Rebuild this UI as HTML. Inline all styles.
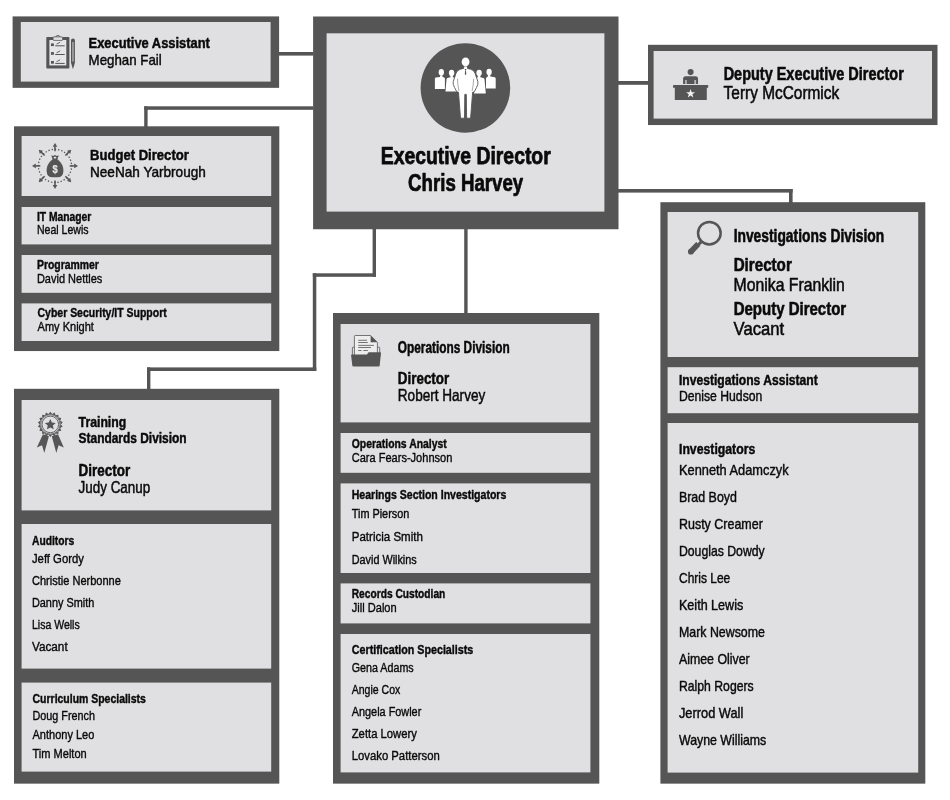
<!DOCTYPE html>
<html lang="en"><head><meta charset="utf-8"><title>Organization Chart</title>
<style>
html,body{margin:0;padding:0;background:#fff;}
body{width:950px;height:800px;overflow:hidden;}
svg{display:block;will-change:transform;}
svg text{font-family:"Liberation Sans",sans-serif;fill:#0a0a0a;stroke:#0a0a0a;stroke-linejoin:round;}
</style></head><body>
<svg width="950" height="800" viewBox="0 0 950 800">
<rect x="0" y="0" width="950" height="800" fill="#ffffff"/>
<g shape-rendering="auto">
<rect x="278.80" y="52.00" width="34.40" height="3.60" fill="#555555"/>
<rect x="144.20" y="106.30" width="3.40" height="20.70" fill="#555555"/>
<rect x="144.20" y="106.30" width="169.00" height="3.50" fill="#555555"/>
<rect x="618.00" y="81.00" width="30.20" height="3.80" fill="#555555"/>
<rect x="618.00" y="189.00" width="174.60" height="3.60" fill="#555555"/>
<rect x="789.00" y="189.00" width="3.60" height="14.00" fill="#555555"/>
<rect x="372.60" y="228.00" width="3.40" height="48.80" fill="#555555"/>
<rect x="312.80" y="273.30" width="63.20" height="3.50" fill="#555555"/>
<rect x="312.80" y="273.30" width="3.50" height="97.70" fill="#555555"/>
<rect x="147.00" y="367.40" width="169.30" height="3.60" fill="#555555"/>
<rect x="147.00" y="367.40" width="3.40" height="22.10" fill="#555555"/>
<rect x="464.20" y="228.00" width="3.40" height="85.50" fill="#555555"/>
<rect x="12.60" y="16.40" width="266.50" height="71.45" fill="#555555"/>
<rect x="20.80" y="22.00" width="249.80" height="59.60" fill="#e0e0e2"/>
<rect x="313.10" y="16.50" width="305.40" height="212.75" fill="#555555"/>
<rect x="326.60" y="33.30" width="277.80" height="178.30" fill="#e0e0e2"/>
<rect x="648.00" y="44.80" width="289.50" height="80.25" fill="#555555"/>
<rect x="653.60" y="51.00" width="278.40" height="67.60" fill="#e0e0e2"/>
<rect x="14.00" y="126.30" width="265.30" height="224.75" fill="#555555"/>
<rect x="21.60" y="136.00" width="249.60" height="60.00" fill="#e0e0e2"/>
<rect x="21.60" y="207.00" width="249.60" height="37.40" fill="#e0e0e2"/>
<rect x="21.60" y="255.00" width="249.60" height="37.80" fill="#e0e0e2"/>
<rect x="21.60" y="303.40" width="249.60" height="37.60" fill="#e0e0e2"/>
<rect x="14.00" y="388.80" width="265.30" height="394.85" fill="#555555"/>
<rect x="21.60" y="400.00" width="249.60" height="110.40" fill="#e0e0e2"/>
<rect x="21.60" y="524.00" width="249.60" height="144.60" fill="#e0e0e2"/>
<rect x="21.60" y="682.60" width="249.60" height="89.00" fill="#e0e0e2"/>
<rect x="333.00" y="313.00" width="266.30" height="470.65" fill="#555555"/>
<rect x="340.60" y="324.00" width="249.80" height="98.40" fill="#e0e0e2"/>
<rect x="340.60" y="433.00" width="249.80" height="39.80" fill="#e0e0e2"/>
<rect x="340.60" y="483.40" width="249.80" height="89.60" fill="#e0e0e2"/>
<rect x="340.60" y="583.40" width="249.80" height="40.00" fill="#e0e0e2"/>
<rect x="340.60" y="634.00" width="249.80" height="138.40" fill="#e0e0e2"/>
<rect x="660.40" y="202.20" width="264.90" height="581.45" fill="#555555"/>
<rect x="667.60" y="212.00" width="250.60" height="145.00" fill="#e0e0e2"/>
<rect x="667.60" y="367.20" width="250.60" height="46.00" fill="#e0e0e2"/>
<rect x="667.60" y="423.00" width="250.60" height="349.60" fill="#e0e0e2"/>
</g>
<g>
<!-- main circle people icon -->
<g id="ic-main">
<circle cx="465.4" cy="87.95" r="44.8" fill="#555555"/>
<g fill="#ffffff">
<!-- outer left -->
<ellipse cx="441.3" cy="72.3" rx="2.65" ry="3.2"/>
<path d="M440.2 75.2 L442.4 75.2 L442.6 76.9 L444.2 77.6 Q444.9 77.9 444.9 78.8 L444.9 88.9 L434.9 88.9 L434.9 78.8 Q434.9 77.9 435.7 77.6 L440 76.9 Z"/>
<!-- inner left -->
<ellipse cx="451.6" cy="72.9" rx="2.7" ry="3.1"/>
<path d="M450.5 75.7 L452.7 75.7 L452.9 77.3 L456 78 L457 91.6 L445.5 91.6 L446.5 79.2 Q446.6 78.2 447.5 78 L450.3 77.3 Z"/>
<!-- inner right -->
<ellipse cx="479.1" cy="72.9" rx="2.7" ry="3.1"/>
<path d="M478 75.7 L480.2 75.7 L480.4 77.3 L483.4 78 Q484.3 78.2 484.5 79.2 L485.8 93.6 L474 93.6 L475 78 L477.8 77.3 Z"/>
<!-- outer right -->
<ellipse cx="489.1" cy="72" rx="2.65" ry="3.2"/>
<path d="M488 74.9 L490.2 74.9 L490.4 76.4 L494.8 77.2 Q495.7 77.4 495.7 78.4 L495.7 88.5 L486 88.5 L486 78.4 Q486 77.5 486.8 77.2 L487.8 76.4 Z"/>
</g>
<!-- central figure with dark outline to separate from side figures -->
<g fill="#ffffff" stroke="#555555" stroke-width="0.9" stroke-linejoin="round">
<path d="M463.7 66 L467.4 66 L467.5 68.4 L470.6 69.2 Q474.2 70.1 475.2 73.6 L477.9 81.7 Q478.4 84.4 476.6 87.4 L474.3 91.8 L472.6 92.3 L470.6 118.2 L466.6 118.2 L466.3 94.4 L464.8 94.4 L464.5 118.2 L460.5 118.2 L458.5 92.3 L456.8 91.8 L454.5 87.4 Q452.7 84.4 453.2 81.7 L455.9 73.6 Q456.9 70.1 460.5 69.2 L463.6 68.4 Z"/>
</g>
<ellipse cx="465.55" cy="61.9" rx="3.9" ry="4.4" fill="#ffffff"/>
<g stroke="#555555" stroke-width="0.5" fill="none" stroke-linecap="round">
<path d="M457.5 79.2 Q457.6 85 458.9 90.6"/>
<path d="M473.6 79.2 Q473.5 85 472.2 90.6"/>
</g>
<path d="M464.6 69.3 L465.55 71 L466.5 69.3 L466.1 69 L465 69 Z M465.1 71 L466 71 L466.3 74.3 L465.55 75 L464.8 74.3 Z" fill="#555555"/>
</g>

<!-- clipboard icon -->
<g id="ic-clip">
<rect x="46.3" y="37.1" width="23.1" height="31.5" rx="0.8" fill="#555555"/>
<rect x="49.4" y="40" width="16.9" height="25.4" fill="#e6e6e8"/>
<path d="M55.7 37.1 A2.2 2.1 0 0 1 60 37.1" fill="#e0e0e2" stroke="#555555" stroke-width="0.9"/>
<rect x="53.1" y="36.9" width="9.5" height="3.5" rx="0.6" fill="#e0e0e2" stroke="#555555" stroke-width="0.8"/>
<g fill="#555555">
<rect x="51" y="43.4" width="2.9" height="2.7"/>
<rect x="51" y="52.1" width="2.9" height="2.7"/>
<rect x="51" y="61" width="2.9" height="2.7"/>
<rect x="55.2" y="45.3" width="9.5" height="1"/>
<rect x="55.2" y="54" width="9.5" height="1"/>
<rect x="55.2" y="62.9" width="9.5" height="1"/>
</g>
<g stroke="#555555" stroke-width="0.9" stroke-linecap="round">
<path d="M56.9 43.9 L59.8 42.4"/>
<path d="M56.9 52.6 L59.8 51.1"/>
<path d="M56.9 61.5 L59.8 60"/>
</g>
<path d="M71 40.2 Q71 38.6 72.95 38.6 Q74.9 38.6 74.9 40.2 L74.9 62.8 L72.95 69.2 L71 62.8 Z" fill="#555555"/>
<rect x="72" y="42" width="1.9" height="19.6" fill="#999999"/>
</g>

<!-- budget icon -->
<g id="ic-budget">
<circle cx="55" cy="165.9" r="16.6" fill="none" stroke="#555555" stroke-width="1.25" stroke-dasharray="1.4 1.8594" stroke-dashoffset="0.7"/>
<g fill="#555555" stroke="#555555" stroke-width="1.6">
<g id="arw"><path d="M55 151.2 L55 146.4" fill="none"/><path d="M55 142.9 L57.3 146.7 L52.7 146.7 Z" stroke="none"/></g>
<use href="#arw" transform="rotate(45 55 165.9)"/>
<use href="#arw" transform="rotate(90 55 165.9)"/>
<use href="#arw" transform="rotate(135 55 165.9)"/>
<use href="#arw" transform="rotate(180 55 165.9)"/>
<use href="#arw" transform="rotate(225 55 165.9)"/>
<use href="#arw" transform="rotate(270 55 165.9)"/>
<use href="#arw" transform="rotate(315 55 165.9)"/>
</g>
<path d="M51.2 155.3 L53 156 L55 155 L57 156 L58.8 155.3 L57.4 159.2 Q63.6 164 63.4 171 Q63.2 177.3 57.5 177.3 L52.5 177.3 Q46.800000000000004 177.3 46.6 171 Q46.4 164 52.6 159.2 Z" fill="#555555"/>
<path d="M53.6 157.3 L55 156.6 L56.4 157.3 L55.9 158.5 L54.100000000000004 158.5 Z" fill="#e0e0e2"/>
<text x="52.4" y="172.7" font-size="10.5" font-weight="700" textLength="5.2" lengthAdjust="spacingAndGlyphs" style="fill:#e6e6e8;stroke:#e6e6e8" stroke-width="0.2">$</text>
</g>

<!-- ribbon icon -->
<g id="ic-ribbon" fill="#555555">
<path d="M43 434.3 L48.9 436.2 L44.3 453.1 L42 445.3 L36.8 447.6 Z"/>
<path d="M51.8 436.2 L58 434.3 L63.8 447.6 L58.6 445.3 L56.3 453.1 Z"/>
<path d="M50.30 411.80 L52.14 413.96 L54.61 412.56 L55.60 415.22 L58.40 414.75 L58.42 417.59 L61.21 418.10 L60.26 420.77 L62.71 422.21 L60.90 424.40 L62.71 426.59 L60.26 428.03 L61.21 430.70 L58.42 431.21 L58.40 434.05 L55.60 433.58 L54.61 436.24 L52.14 434.84 L50.30 437.00 L48.46 434.84 L45.99 436.24 L45.00 433.58 L42.20 434.05 L42.18 431.21 L39.39 430.70 L40.34 428.03 L37.89 426.59 L39.70 424.40 L37.89 422.21 L40.34 420.77 L39.39 418.10 L42.18 417.59 L42.20 414.75 L45.00 415.22 L45.99 412.56 L48.46 413.96 Z"/>
<circle cx="50.3" cy="424.4" r="10.2" fill="#e0e0e2"/>
<circle cx="50.3" cy="424.4" r="9.7" fill="none" stroke="#555555" stroke-width="0.8"/>
<circle cx="50.3" cy="424.4" r="8.3" fill="none" stroke="#555555" stroke-width="0.9"/>
<path d="M50.30 419.00 L51.89 422.52 L55.72 422.94 L52.87 425.53 L53.65 429.31 L50.30 427.40 L46.95 429.31 L47.73 425.53 L44.88 422.94 L48.71 422.52 Z"/>
</g>

<!-- folder icon -->
<g id="ic-folder">
<rect x="352.4" y="347.2" width="27.3" height="10" rx="0.8" fill="#e6e6e8" stroke="#555555" stroke-width="0.8"/>
<path d="M355.2 335.5 L370.6 335.5 L377.4 342.3 L377.4 356 L354.4 356 L354.4 336.3 Q354.4 335.5 355.2 335.5 Z" fill="#ededee" stroke="#555555" stroke-width="0.8" stroke-linejoin="round"/>
<path d="M370.6 335.6 L377.3 342.3 L370.6 342.3 Z" fill="#555555"/>
<g fill="#666666">
<rect x="358.2" y="339.8" width="8.8" height="0.9"/>
<rect x="358.2" y="342.1" width="9.6" height="0.9"/>
<rect x="358.2" y="344.9" width="15.7" height="0.9"/>
<rect x="358.2" y="347.1" width="12.7" height="0.9"/>
<rect x="358.2" y="350" width="3.3" height="0.9"/>
<rect x="363.4" y="350" width="4.4" height="0.9"/>
</g>
<path d="M351.1 355.3 Q351 354.4 351.9 354.4 L367 354.4 L368.3 352.6 Q368.6 352.2 369.2 352.2 L380.2 352.2 Q381.1 352.2 381 353.1 L379.7 365.5 Q379.6 366.5 378.6 366.5 L353.4 366.5 Q352.4 366.5 352.3 365.5 Z" fill="#555555"/>
</g>

<!-- desk icon -->
<g id="ic-desk" fill="#555555">
<circle cx="690.6" cy="72.1" r="3.05"/>
<path d="M683.1 84 L683.1 78.8 Q683.1 76.2 685.7 76.2 L695.5 76.2 Q698.05 76.2 698.05 78.8 L698.05 84 Z"/>
<rect x="685.1" y="80" width="1.7" height="4.1" fill="#b8b8ba"/>
<rect x="694.3" y="80" width="1.8" height="4.1" fill="#b8b8ba"/>
<rect x="673" y="85" width="35.2" height="2.7" rx="0.5"/>
<rect x="674.8" y="87" width="32" height="13"/>
<path d="M690.60 89.00 L691.72 92.16 L695.07 92.25 L692.41 94.29 L693.36 97.50 L690.60 95.60 L687.84 97.50 L688.79 94.29 L686.13 92.25 L689.48 92.16 Z" fill="#f2f2f2"/>
</g>

<!-- magnifier -->
<g id="ic-mag">
<circle cx="709.35" cy="233.2" r="11.3" fill="none" stroke="#555555" stroke-width="2.5"/>
<path d="M701.9 241.1 L698.6 244.5" stroke="#555555" stroke-width="3" fill="none"/>
<path d="M698.3 243.85 L690.8 251.7" stroke="#555555" stroke-width="5.7" stroke-linecap="butt" fill="none"/>
<circle cx="690.8" cy="251.7" r="2.85" fill="#555555"/>
</g>

</g>
<g>
<text x="88.59" y="47.60" font-size="14.97" font-weight="700" stroke-width="0.48" textLength="121.26" lengthAdjust="spacingAndGlyphs">Executive Assistant</text>
<text x="88.57" y="64.60" font-size="14.97" font-weight="400" stroke-width="0.45" textLength="73.11" lengthAdjust="spacingAndGlyphs">Meghan Fail</text>
<text x="380.72" y="164.00" font-size="23.36" font-weight="700" stroke-width="0.75" textLength="169.99" lengthAdjust="spacingAndGlyphs">Executive Director</text>
<text x="408.12" y="191.00" font-size="23.21" font-weight="700" stroke-width="0.74" textLength="115.01" lengthAdjust="spacingAndGlyphs">Chris Harvey</text>
<text x="723.64" y="80.00" font-size="17.97" font-weight="700" stroke-width="0.57" textLength="180.16" lengthAdjust="spacingAndGlyphs">Deputy Executive Director</text>
<text x="723.62" y="99.40" font-size="17.97" font-weight="400" stroke-width="0.54" textLength="115.57" lengthAdjust="spacingAndGlyphs">Terry McCormick</text>
<text x="89.99" y="159.60" font-size="15.27" font-weight="700" stroke-width="0.49" textLength="98.85" lengthAdjust="spacingAndGlyphs">Budget Director</text>
<text x="89.98" y="177.00" font-size="15.42" font-weight="400" stroke-width="0.46" textLength="115.88" lengthAdjust="spacingAndGlyphs">NeeNah Yarbrough</text>
<text x="36.95" y="221.00" font-size="12.73" font-weight="700" stroke-width="0.41" textLength="54.33" lengthAdjust="spacingAndGlyphs">IT Manager</text>
<text x="36.94" y="234.00" font-size="12.73" font-weight="400" stroke-width="0.38" textLength="51.56" lengthAdjust="spacingAndGlyphs">Neal Lewis</text>
<text x="36.95" y="269.00" font-size="12.73" font-weight="700" stroke-width="0.41" textLength="61.94" lengthAdjust="spacingAndGlyphs">Programmer</text>
<text x="36.94" y="283.00" font-size="12.73" font-weight="400" stroke-width="0.38" textLength="65.36" lengthAdjust="spacingAndGlyphs">David Nettles</text>
<text x="37.55" y="317.00" font-size="12.73" font-weight="700" stroke-width="0.41" textLength="129.15" lengthAdjust="spacingAndGlyphs">Cyber Security/IT Support</text>
<text x="37.54" y="331.00" font-size="12.73" font-weight="400" stroke-width="0.38" textLength="56.38" lengthAdjust="spacingAndGlyphs">Amy Knight</text>
<text x="78.59" y="427.00" font-size="14.97" font-weight="700" stroke-width="0.48" textLength="47.66" lengthAdjust="spacingAndGlyphs">Training</text>
<text x="78.59" y="443.00" font-size="14.97" font-weight="700" stroke-width="0.48" textLength="108.08" lengthAdjust="spacingAndGlyphs">Standards Division</text>
<text x="78.60" y="476.00" font-size="15.87" font-weight="700" stroke-width="0.51" textLength="51.64" lengthAdjust="spacingAndGlyphs">Director</text>
<text x="78.59" y="493.40" font-size="16.17" font-weight="400" stroke-width="0.49" textLength="71.66" lengthAdjust="spacingAndGlyphs">Judy Canup</text>
<text x="31.96" y="545.00" font-size="12.88" font-weight="700" stroke-width="0.41" textLength="42.35" lengthAdjust="spacingAndGlyphs">Auditors</text>
<text x="31.94" y="562.60" font-size="12.88" font-weight="400" stroke-width="0.39" textLength="51.96" lengthAdjust="spacingAndGlyphs">Jeff Gordy</text>
<text x="31.94" y="584.60" font-size="12.88" font-weight="400" stroke-width="0.39" textLength="88.96" lengthAdjust="spacingAndGlyphs">Christie Nerbonne</text>
<text x="31.94" y="606.60" font-size="12.88" font-weight="400" stroke-width="0.39" textLength="62.36" lengthAdjust="spacingAndGlyphs">Danny Smith</text>
<text x="31.94" y="628.60" font-size="12.88" font-weight="400" stroke-width="0.39" textLength="47.75" lengthAdjust="spacingAndGlyphs">Lisa Wells</text>
<text x="31.94" y="650.60" font-size="12.88" font-weight="400" stroke-width="0.39" textLength="35.75" lengthAdjust="spacingAndGlyphs">Vacant</text>
<text x="32.56" y="703.00" font-size="12.88" font-weight="700" stroke-width="0.41" textLength="113.34" lengthAdjust="spacingAndGlyphs">Curriculum Specialists</text>
<text x="32.54" y="720.00" font-size="12.88" font-weight="400" stroke-width="0.39" textLength="62.37" lengthAdjust="spacingAndGlyphs">Doug French</text>
<text x="32.54" y="739.00" font-size="12.88" font-weight="400" stroke-width="0.39" textLength="61.77" lengthAdjust="spacingAndGlyphs">Anthony Leo</text>
<text x="32.54" y="758.00" font-size="12.88" font-weight="400" stroke-width="0.39" textLength="54.17" lengthAdjust="spacingAndGlyphs">Tim Melton</text>
<text x="397.80" y="353.00" font-size="15.57" font-weight="700" stroke-width="0.50" textLength="111.84" lengthAdjust="spacingAndGlyphs">Operations Division</text>
<text x="397.81" y="384.00" font-size="16.47" font-weight="700" stroke-width="0.53" textLength="51.42" lengthAdjust="spacingAndGlyphs">Director</text>
<text x="397.79" y="401.00" font-size="15.87" font-weight="400" stroke-width="0.48" textLength="87.47" lengthAdjust="spacingAndGlyphs">Robert Harvey</text>
<text x="351.76" y="448.00" font-size="12.88" font-weight="700" stroke-width="0.41" textLength="94.93" lengthAdjust="spacingAndGlyphs">Operations Analyst</text>
<text x="351.74" y="462.00" font-size="12.88" font-weight="400" stroke-width="0.39" textLength="100.57" lengthAdjust="spacingAndGlyphs">Cara Fears-Johnson</text>
<text x="351.76" y="499.00" font-size="12.88" font-weight="700" stroke-width="0.41" textLength="154.53" lengthAdjust="spacingAndGlyphs">Hearings Section Investigators</text>
<text x="351.74" y="518.00" font-size="12.88" font-weight="400" stroke-width="0.39" textLength="57.56" lengthAdjust="spacingAndGlyphs">Tim Pierson</text>
<text x="351.74" y="541.00" font-size="12.88" font-weight="400" stroke-width="0.39" textLength="71.18" lengthAdjust="spacingAndGlyphs">Patricia Smith</text>
<text x="351.74" y="564.00" font-size="12.88" font-weight="400" stroke-width="0.39" textLength="64.98" lengthAdjust="spacingAndGlyphs">David Wilkins</text>
<text x="351.76" y="598.00" font-size="12.88" font-weight="700" stroke-width="0.41" textLength="93.55" lengthAdjust="spacingAndGlyphs">Records Custodian</text>
<text x="351.74" y="612.00" font-size="12.88" font-weight="400" stroke-width="0.39" textLength="44.96" lengthAdjust="spacingAndGlyphs">Jill Dalon</text>
<text x="351.76" y="654.00" font-size="12.88" font-weight="700" stroke-width="0.41" textLength="121.54" lengthAdjust="spacingAndGlyphs">Certification Specialists</text>
<text x="351.74" y="672.00" font-size="12.88" font-weight="400" stroke-width="0.39" textLength="61.95" lengthAdjust="spacingAndGlyphs">Gena Adams</text>
<text x="351.74" y="694.00" font-size="12.88" font-weight="400" stroke-width="0.39" textLength="48.55" lengthAdjust="spacingAndGlyphs">Angie Cox</text>
<text x="351.74" y="716.00" font-size="12.88" font-weight="400" stroke-width="0.39" textLength="69.56" lengthAdjust="spacingAndGlyphs">Angela Fowler</text>
<text x="351.74" y="738.00" font-size="12.88" font-weight="400" stroke-width="0.39" textLength="65.17" lengthAdjust="spacingAndGlyphs">Zetta Lowery</text>
<text x="351.74" y="760.00" font-size="12.88" font-weight="400" stroke-width="0.39" textLength="87.97" lengthAdjust="spacingAndGlyphs">Lovako Patterson</text>
<text x="733.63" y="242.40" font-size="17.67" font-weight="700" stroke-width="0.57" textLength="150.57" lengthAdjust="spacingAndGlyphs">Investigations Division</text>
<text x="733.64" y="270.60" font-size="18.26" font-weight="700" stroke-width="0.58" textLength="58.16" lengthAdjust="spacingAndGlyphs">Director</text>
<text x="733.62" y="290.60" font-size="17.97" font-weight="400" stroke-width="0.54" textLength="111.22" lengthAdjust="spacingAndGlyphs">Monika Franklin</text>
<text x="733.64" y="315.00" font-size="17.97" font-weight="700" stroke-width="0.57" textLength="112.56" lengthAdjust="spacingAndGlyphs">Deputy Director</text>
<text x="733.62" y="335.00" font-size="17.97" font-weight="400" stroke-width="0.54" textLength="50.60" lengthAdjust="spacingAndGlyphs">Vacant</text>
<text x="678.98" y="385.00" font-size="14.37" font-weight="700" stroke-width="0.46" textLength="138.70" lengthAdjust="spacingAndGlyphs">Investigations Assistant</text>
<text x="678.97" y="401.00" font-size="14.37" font-weight="400" stroke-width="0.43" textLength="83.32" lengthAdjust="spacingAndGlyphs">Denise Hudson</text>
<text x="678.98" y="454.00" font-size="14.37" font-weight="700" stroke-width="0.46" textLength="76.28" lengthAdjust="spacingAndGlyphs">Investigators</text>
<text x="678.97" y="475.00" font-size="14.37" font-weight="400" stroke-width="0.43" textLength="109.70" lengthAdjust="spacingAndGlyphs">Kenneth Adamczyk</text>
<text x="678.97" y="502.00" font-size="14.37" font-weight="400" stroke-width="0.43" textLength="57.91" lengthAdjust="spacingAndGlyphs">Brad Boyd</text>
<text x="678.97" y="529.00" font-size="14.37" font-weight="400" stroke-width="0.43" textLength="83.90" lengthAdjust="spacingAndGlyphs">Rusty Creamer</text>
<text x="678.97" y="556.00" font-size="14.37" font-weight="400" stroke-width="0.43" textLength="85.73" lengthAdjust="spacingAndGlyphs">Douglas Dowdy</text>
<text x="678.97" y="583.00" font-size="14.37" font-weight="400" stroke-width="0.43" textLength="51.32" lengthAdjust="spacingAndGlyphs">Chris Lee</text>
<text x="678.97" y="610.00" font-size="14.37" font-weight="400" stroke-width="0.43" textLength="64.31" lengthAdjust="spacingAndGlyphs">Keith Lewis</text>
<text x="678.97" y="637.00" font-size="14.37" font-weight="400" stroke-width="0.43" textLength="85.93" lengthAdjust="spacingAndGlyphs">Mark Newsome</text>
<text x="678.97" y="664.00" font-size="14.37" font-weight="400" stroke-width="0.43" textLength="70.70" lengthAdjust="spacingAndGlyphs">Aimee Oliver</text>
<text x="678.97" y="691.00" font-size="14.37" font-weight="400" stroke-width="0.43" textLength="74.71" lengthAdjust="spacingAndGlyphs">Ralph Rogers</text>
<text x="678.97" y="718.00" font-size="14.37" font-weight="400" stroke-width="0.43" textLength="64.31" lengthAdjust="spacingAndGlyphs">Jerrod Wall</text>
<text x="678.97" y="745.00" font-size="14.37" font-weight="400" stroke-width="0.43" textLength="87.32" lengthAdjust="spacingAndGlyphs">Wayne Williams</text>
</g>
</svg>
</body></html>
